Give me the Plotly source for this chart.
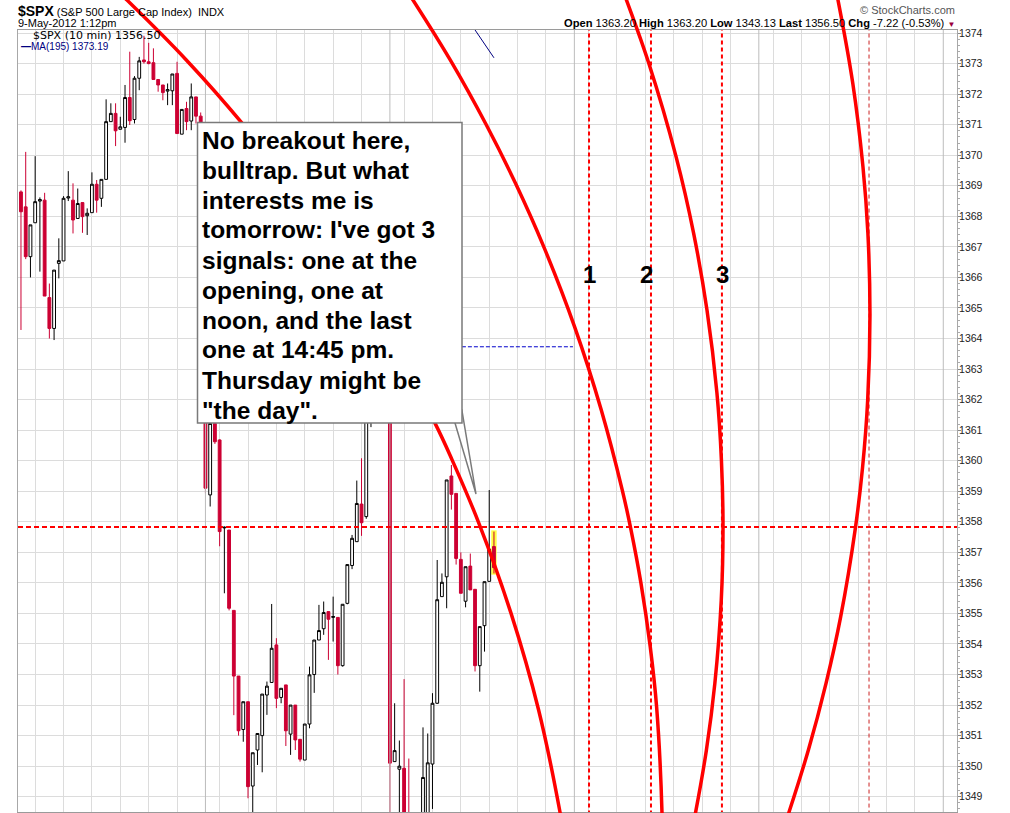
import plotly.graph_objects as go

# 10-minute bars of $SPX: 7 May (bars 0-38), 8 May (39-77), 9 May up to 1:12pm (78-100)
opens = [
    1368.80, 1368.31, 1366.68, 1367.79, 1368.50, 1368.53, 1365.34, 1364.33, 1366.46, 1366.54,
    1368.60, 1368.53, 1367.93, 1368.45, 1368.02, 1368.12, 1369.05, 1368.59, 1369.21, 1371.10,
    1371.37, 1370.85, 1370.91, 1371.89, 1371.17, 1372.52, 1373.12, 1373.06, 1373.03, 1372.48,
    1372.30, 1372.10, 1372.11, 1372.68, 1370.69, 1371.53, 1371.12, 1371.91, 1371.28,
    1369.16, 1358.88, 1361.22, 1360.68, 1357.80, 1357.73, 1355.10, 1352.95, 1351.20, 1352.11,
    1349.35, 1350.53, 1351.00, 1352.33, 1352.74, 1353.97, 1352.25, 1352.66, 1351.05, 1352.00,
    1350.88, 1350.20, 1351.38, 1353.00, 1354.13, 1354.50, 1355.06, 1354.87, 1354.87, 1353.29,
    1355.33, 1356.57, 1357.35, 1358.58, 1358.17, 1362.20, 1363.00, 1362.80, 1363.50,
    1363.20, 1350.15, 1349.90, 1349.93, 1346.60, 1345.00, 1344.00, 1346.80, 1348.40, 1350.07,
    1352.06, 1355.55, 1356.20, 1359.50, 1358.93, 1356.77, 1355.40, 1356.55, 1355.79, 1353.29,
    1354.60, 1356.05, 1357.19,
]
highs = [
    1368.85, 1370.11, 1367.72, 1369.97, 1368.62, 1368.77, 1365.80, 1366.24, 1367.28, 1368.66,
    1369.48, 1369.08, 1368.91, 1368.45, 1368.26, 1369.44, 1369.19, 1369.21, 1371.83, 1371.70,
    1371.70, 1371.26, 1372.30, 1373.39, 1372.59, 1373.22, 1373.91, 1373.68, 1373.50, 1372.48,
    1372.30, 1372.35, 1372.66, 1373.06, 1371.50, 1371.75, 1372.35, 1371.91, 1371.40,
    1369.16, 1361.50, 1361.40, 1360.70, 1357.85, 1357.73, 1355.10, 1352.95, 1352.11, 1352.11,
    1350.44, 1351.07, 1352.36, 1352.77, 1355.31, 1354.19, 1352.55, 1352.66, 1352.00, 1352.00,
    1350.88, 1351.38, 1353.26, 1354.13, 1355.28, 1355.39, 1355.06, 1355.55, 1354.87, 1355.30,
    1356.60, 1357.57, 1359.35, 1360.08, 1362.60, 1363.20, 1363.40, 1363.60, 1363.90,
    1363.20, 1352.06, 1350.84, 1352.85, 1350.25, 1345.80, 1347.20, 1351.27, 1351.07, 1352.39,
    1356.75, 1356.31, 1359.37, 1359.86, 1358.93, 1357.00, 1356.53, 1356.96, 1355.79, 1354.57,
    1356.04, 1359.04, 1357.68,
]
lows = [
    1364.28, 1366.60, 1366.00, 1367.79, 1366.19, 1365.39, 1364.00, 1363.95, 1365.97, 1366.54,
    1368.50, 1367.44, 1367.93, 1367.46, 1367.39, 1368.12, 1368.12, 1368.31, 1369.21, 1371.10,
    1370.30, 1370.85, 1370.41, 1370.99, 1371.04, 1372.13, 1373.00, 1372.98, 1372.48, 1372.08,
    1371.80, 1371.64, 1371.64, 1370.71, 1370.69, 1370.82, 1370.82, 1371.04, 1369.40,
    1358.93, 1358.50, 1360.55, 1357.20, 1355.66, 1355.10, 1351.67, 1351.00, 1350.80, 1348.95,
    1347.75, 1350.04, 1349.80, 1351.68, 1352.74, 1351.90, 1352.06, 1350.66, 1350.37, 1350.53,
    1350.15, 1350.20, 1351.24, 1352.40, 1354.13, 1354.30, 1353.48, 1354.08, 1353.00, 1353.26,
    1355.30, 1356.45, 1357.35, 1357.54, 1358.10, 1361.10, 1362.40, 1362.50, 1363.20,
    1348.20, 1350.15, 1348.10, 1346.00, 1344.40, 1343.13, 1343.60, 1346.50, 1348.10, 1348.60,
    1352.04, 1355.55, 1355.17, 1358.40, 1356.60, 1355.66, 1355.20, 1355.77, 1353.10, 1352.44,
    1353.75, 1356.05, 1356.31,
]
closes = [
    1368.15, 1366.68, 1367.72, 1368.48, 1368.55, 1365.39, 1364.33, 1366.24, 1366.55, 1368.59,
    1368.64, 1367.88, 1368.42, 1367.99, 1368.10, 1369.05, 1368.53, 1369.21, 1371.10, 1371.37,
    1370.80, 1370.93, 1371.89, 1371.13, 1372.52, 1373.09, 1373.06, 1373.00, 1372.48, 1372.30,
    1372.05, 1372.15, 1372.66, 1370.71, 1371.50, 1371.10, 1371.91, 1371.28, 1369.58,
    1359.10, 1361.22, 1360.62, 1357.68, 1357.82, 1355.17, 1352.95, 1351.16, 1352.11, 1349.33,
    1350.44, 1351.07, 1352.36, 1352.62, 1353.86, 1352.22, 1352.55, 1351.16, 1352.00, 1350.86,
    1350.23, 1351.38, 1352.99, 1354.13, 1354.44, 1355.03, 1354.81, 1354.90, 1353.29, 1355.30,
    1356.60, 1357.46, 1358.60, 1357.97, 1362.20, 1363.00, 1362.80, 1363.50, 1363.72,
    1350.10, 1350.51, 1350.00, 1346.60, 1345.00, 1344.00, 1346.80, 1349.63, 1350.11, 1352.06,
    1355.45, 1356.02, 1359.37, 1358.90, 1356.80, 1355.66, 1356.53, 1355.77, 1353.29, 1354.57,
    1356.04, 1357.10, 1356.50,
]
bars = list(range(len(closes)))

ma_bars = [95, 96, 97, 98, 99, 100]
ma_195 = [1374.33, 1374.10, 1373.87, 1373.64, 1373.41, 1373.19]

header_keys = ["Open", "High", "Low", "Last", "Chg"]
header_vals = ["1363.20", "1363.20", "1343.13", "1356.50", "-7.22 (-0.53%)"]

prev_close = 1363.73
prev_close_span = [78, 116.7]
level_line = 1357.83
signal_bars = [120.1, 133.2, 148.2]
thin_line_bar = 179.3
signal_labels = ["1", "2", "3"]
label_bars = [120.3, 132.3, 148.4]
label_price = 1366.08

# hand-drawn red arcs as (bar, price)
arc_a_x = [17.89, 22.41, 34.95, 46.52, 59.35, 73.39, 87.53, 91.17, 96.80, 103.60, 109.44, 113.96, 114.93]
arc_a_y = [1375.74, 1375.08, 1373.12, 1371.09, 1368.53, 1365.26, 1361.23, 1360.02, 1357.96, 1355.01, 1351.84, 1348.50, 1347.58]
arc_b_x = [80.07, 82.88, 90.75, 98.40, 104.53, 110.54, 117.13, 122.69, 127.13, 128.89, 131.07, 133.05, 134.39, 135.53, 135.57]
arc_b_y = [1375.74, 1375.08, 1373.12, 1370.99, 1369.09, 1367.00, 1364.35, 1361.66, 1359.04, 1357.80, 1356.00, 1353.90, 1351.94, 1348.47, 1347.58]
arc_c_x = [126.39, 128.02, 132.72, 138.53, 142.21, 145.04, 147.14, 148.09, 148.43, 148.06, 146.71, 144.92, 142.61, 141.45]
arc_c_y = [1375.74, 1375.08, 1373.02, 1369.94, 1367.45, 1364.93, 1362.22, 1360.02, 1357.80, 1355.44, 1352.72, 1350.53, 1348.47, 1347.58]
arc_d_x = [171.85, 172.74, 175.85, 178.02, 179.06, 179.50, 179.02, 177.94, 176.42, 173.29, 170.22, 166.48, 162.32, 160.35]
arc_d_y = [1375.74, 1375.08, 1372.37, 1369.62, 1367.45, 1364.77, 1361.99, 1359.79, 1357.80, 1354.88, 1352.72, 1350.53, 1348.47, 1347.58]

note_lines = [
    "No breakout here,",
    "bulltrap. But what",
    "interests me is",
    "tomorrow: I've got 3",
    "signals: one at the",
    "opening, one at",
    "noon, and the last",
    "one at 14:45 pm.",
    "Thursday might be",
    "\"the day\".",
]

W, H = 1010, 813
ML, MR = 18, 53
TOP, BOT = 30, 812
Y_LO, Y_HI = 1348.5, 1374.1
X_LO, X_HI = -0.63, 197.9
scale = (BOT - TOP) / (Y_HI - Y_LO)
bar_px = (W - ML - MR) / (X_HI - X_LO)


def pxx(px):
    return (px - ML) / (W - ML - MR)


def pxy(py):
    return 1 - py / H


def to_bar(px):
    return X_LO + (px - ML) / bar_px


def to_price(py):
    return Y_HI - (py - TOP) / scale


RED = "#CC0033"
GRID = "#dcdcdc"
FONT = "Arial, Liberation Sans, sans-serif"

fig = go.Figure()

# day separators
day_x, day_y = [], []
for d in range(1, 6):
    day_x += [39 * d, 39 * d, None]
    day_y += [Y_LO - 1, Y_HI + 1, None]
fig.add_trace(go.Scatter(x=day_x, y=day_y, mode="lines", line=dict(color="#bcbcbc", width=1),
                         hoverinfo="skip", showlegend=False))

# yellow highlight on the last bar
fig.add_trace(go.Bar(x=[bars[-1]], y=[highs[-1] - lows[-1] + 0.08], base=[lows[-1] - 0.04],
                     width=[1.15], marker=dict(color="#FFFF44", line=dict(width=0)),
                     hoverinfo="skip", showlegend=False))

fig.add_trace(go.Candlestick(
    x=bars, open=opens, high=highs, low=lows, close=closes,
    increasing=dict(line=dict(color="black", width=1), fillcolor="white"),
    decreasing=dict(line=dict(color=RED, width=1), fillcolor=RED),
    whiskerwidth=0, hoverinfo="skip", showlegend=False,
))

fig.add_trace(go.Scatter(x=ma_bars, y=ma_195, mode="lines", line=dict(color="#000080", width=1),
                         hoverinfo="skip", showlegend=False))

fig.add_trace(go.Scatter(x=prev_close_span, y=[prev_close, prev_close], mode="lines",
                         line=dict(color="#0000CC", width=1, dash="4px,2px"),
                         hoverinfo="skip", showlegend=False))

fig.add_trace(go.Scatter(x=[X_LO, X_HI], y=[level_line, level_line], mode="lines",
                         line=dict(color="#FF0000", width=2, dash="5px,3px"),
                         hoverinfo="skip", showlegend=False))

for b in signal_bars:
    fig.add_trace(go.Scatter(x=[b, b], y=[Y_LO - 1, Y_HI + 1], mode="lines",
                             line=dict(color="#FF0000", width=2, dash="4px,3px"),
                             hoverinfo="skip", showlegend=False))
fig.add_trace(go.Scatter(x=[thin_line_bar, thin_line_bar], y=[Y_LO - 1, Y_HI + 1], mode="lines",
                         line=dict(color="#CC2222", width=1, dash="4px,3px"),
                         hoverinfo="skip", showlegend=False))

# arcs live on a full-height overlay so they can run up through the header
for ax_, ay_ in [(arc_a_x, arc_a_y), (arc_b_x, arc_b_y), (arc_c_x, arc_c_y), (arc_d_x, arc_d_y)]:
    fig.add_trace(go.Scatter(x=ax_, y=ay_, mode="lines", xaxis="x2", yaxis="y2",
                             line=dict(color="#FF0000", width=3.5, shape="spline", smoothing=1),
                             hoverinfo="skip", showlegend=False))

hour_ticks = [39 * d + o for d in range(6) for o in (3, 9, 15, 21, 27, 33)]

fig.update_layout(
    width=W, height=H,
    margin=dict(l=ML, r=MR, t=0, b=0, autoexpand=False),
    paper_bgcolor="white", plot_bgcolor="rgba(0,0,0,0)",
    font=dict(family=FONT, size=11, color="black"),
    showlegend=False,
    boxgap=0.15,
    xaxis=dict(range=[X_LO, X_HI], domain=[0, 1], tickvals=hour_ticks, showticklabels=False,
               ticks="", showgrid=True, gridcolor=GRID, gridwidth=1, zeroline=False,
               showline=True, linecolor="#9a9a9a", linewidth=1, mirror=True,
               rangeslider=dict(visible=False), fixedrange=True),
    yaxis=dict(range=[Y_LO, Y_HI], domain=[pxy(BOT), pxy(TOP)], side="right", dtick=1,
               showgrid=True, gridcolor=GRID, gridwidth=1, zeroline=False,
               showline=True, linecolor="#a8a8a8", linewidth=1, mirror=True,
               ticks="outside", ticklen=3, tickcolor="#888", ticklabelstandoff=-4,
               tickfont=dict(family=FONT, size=10.5, color="#222"),
               minor=dict(dtick=0.2, ticks="outside", ticklen=2, tickcolor="#aaa", showgrid=False),
               automargin=False, fixedrange=True),
    xaxis2=dict(range=[X_LO, X_HI], domain=[0, 1], anchor="y2", visible=False, fixedrange=True),
    yaxis2=dict(range=[to_price(H), to_price(0)], domain=[0, 1], anchor="x2",
                visible=False, fixedrange=True),
)

# callout box with its pointer
box_x0, box_x1 = to_bar(197.5), to_bar(462)
box_y0, box_y1 = to_price(423), to_price(122.5)
tip_x, tip_y = to_bar(476), to_price(494)
base_x, side_y = to_bar(455), to_price(411)
fig.add_shape(type="path", xref="x", yref="y", layer="above",
              path=f"M {base_x},{box_y0} L {tip_x},{tip_y} L {box_x1},{side_y} Z",
              fillcolor="white", line=dict(color="#7a7a7a", width=1.5))
fig.add_shape(type="rect", xref="x", yref="y", layer="above",
              x0=box_x0, x1=box_x1, y0=box_y0, y1=box_y1,
              fillcolor="white", line=dict(color="#7a7a7a", width=1.5))

for k, line in enumerate(note_lines):
    fig.add_annotation(xref="paper", yref="paper", x=pxx(200), y=pxy(140 + 30 * k),
                       xanchor="left", yanchor="middle", showarrow=False, text=line,
                       font=dict(family=FONT, size=24.5, color="black", weight="bold"))

for b, lab in zip(label_bars, signal_labels):
    fig.add_annotation(xref="x", yref="y", x=b, y=label_price, showarrow=False, text=lab,
                       font=dict(family=FONT, size=24, color="black", weight="bold"))

# header
fig.add_annotation(xref="paper", yref="paper", x=pxx(16), y=pxy(11), xanchor="left", yanchor="middle",
                   showarrow=False,
                   text="<span style='font-size:14px'><b>$SPX</b></span> (S&amp;P 500 Large Cap Index)  INDX",
                   font=dict(family=FONT, size=11, color="black"))
fig.add_annotation(xref="paper", yref="paper", x=pxx(16), y=pxy(23), xanchor="left", yanchor="middle",
                   showarrow=False, text="9-May-2012 1:12pm",
                   font=dict(family=FONT, size=11, color="black"))
fig.add_annotation(xref="paper", yref="paper", x=1, y=pxy(10), xanchor="right", yanchor="middle",
                   showarrow=False, text="© StockCharts.com",
                   font=dict(family=FONT, size=11, color="#555"))
stats = " ".join(f"<b>{k}</b> {v}" for k, v in zip(header_keys, header_vals))
fig.add_annotation(xref="paper", yref="paper", x=1, y=pxy(23), xanchor="right", yanchor="middle",
                   showarrow=False,
                   text=stats + " <span style='color:#99003d;font-size:8px'>▼</span>",
                   font=dict(family=FONT, size=11.15, color="black"))

# in-chart legend
fig.add_annotation(xref="paper", yref="paper", x=pxx(31), y=pxy(36), xanchor="left", yanchor="middle",
                   showarrow=False, text=f"$SPX (10 min) {closes[-1]:.2f}",
                   font=dict(family="DejaVu Sans, Verdana, sans-serif", size=11, color="black"))
fig.add_annotation(xref="paper", yref="paper", x=pxx(19), y=pxy(47), xanchor="left", yanchor="middle",
                   showarrow=False, text=f"<b>—</b>MA(195) {ma_195[-1]:.2f}",
                   font=dict(family=FONT, size=10, color="#000080"))

fig.write_html("out.html", config={"displayModeBar": False},
               post_script="document.body.style.margin='0px';")
